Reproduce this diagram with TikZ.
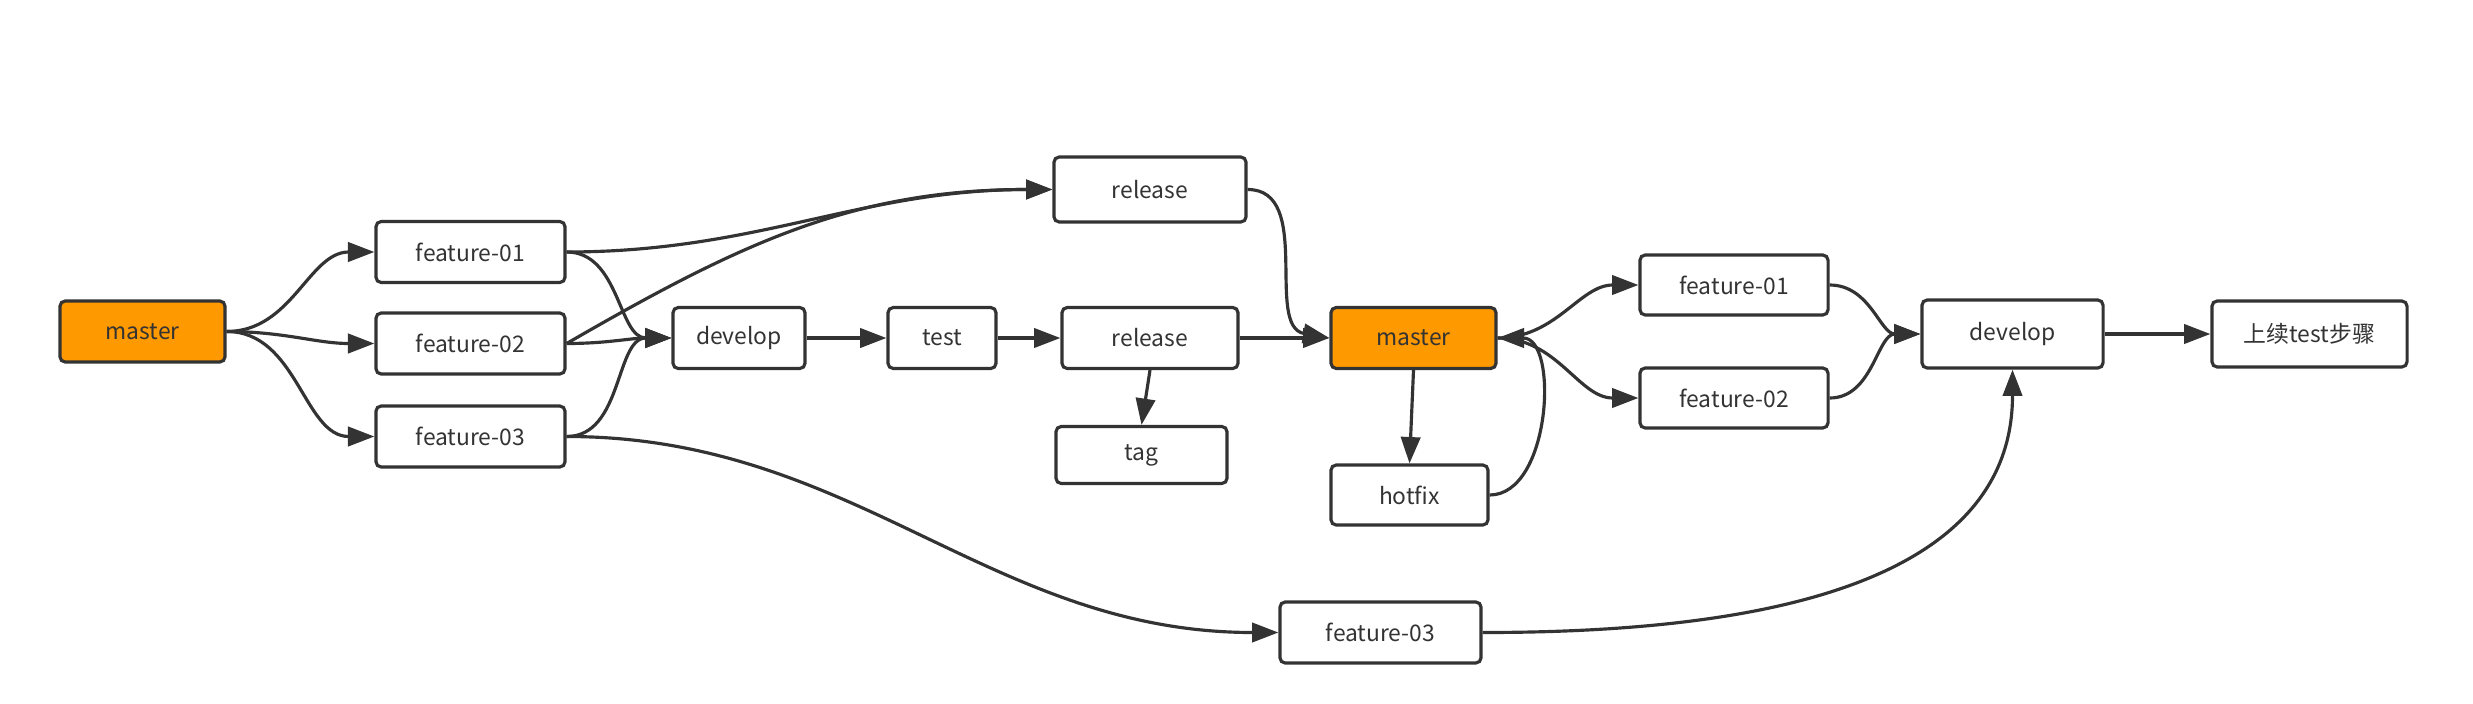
\documentclass[tikz,border=0pt]{standalone}
\usepackage{fontspec}
\setmainfont{Noto Sans CJK SC}
\usepackage{tikz}
\usetikzlibrary{arrows.meta}
\definecolor{masterfill}{RGB}{255,153,0}
\definecolor{linegray}{RGB}{51,51,51}
\definecolor{textgray}{RGB}{51,51,51}

\begin{document}
\begin{tikzpicture}[x=0.01cm,y=-0.01cm,
  box/.style={draw=linegray,line width=0.9pt,rounded corners=1.5pt,minimum height=0.61cm,
    inner sep=0pt,text=textgray,font=\fontsize{6.5}{8}\selectfont},
  masterbox/.style={box,fill=masterfill},
  link/.style={draw=linegray,line width=0.9pt,-{Triangle[length=7.5pt,width=5.5pt]}}]
  \useasboundingbox (0,0) rectangle (2473,703);
  % first round
  \node[masterbox,minimum width=1.65cm] (masterA) at (142.5,331.5) {master};
  \node[box,minimum width=1.89cm] (featA) at (470.5,252) {feature-01};
  \node[box,minimum width=1.89cm] (featB) at (470.5,343.5) {feature-02};
  \node[box,minimum width=1.89cm] (featC) at (470.5,436.5) {feature-03};
  \node[box,minimum width=1.32cm] (devA) at (739,338) {develop};
  \node[box,minimum width=1.08cm] (test) at (942,338) {test};
  \node[box,minimum width=1.76cm] (relA) at (1150,338) {release};
  \node[box,minimum width=1.71cm,minimum height=0.57cm] (tag) at (1141.5,455) {tag};
  \node[box,minimum width=1.92cm,minimum height=0.65cm] (relB) at (1150,189.5) {release};
  % second round
  \node[masterbox,minimum width=1.65cm] (masterB) at (1413.5,338) {master};
  \node[box,minimum width=1.57cm,minimum height=0.6cm] (hotfix) at (1409.5,495) {hotfix};
  \node[box,minimum width=1.88cm,minimum height=0.6cm] (featD) at (1734,285) {feature-01};
  \node[box,minimum width=1.88cm,minimum height=0.6cm] (featE) at (1734,398) {feature-02};
  \node[box,minimum width=1.81cm,minimum height=0.68cm] (devB) at (2012.5,334) {develop};
  \node[box,minimum width=1.95cm,minimum height=0.66cm] (next) at (2309.5,334) {上续test步骤};
  \node[box,minimum width=2.01cm] (featF) at (1380.5,632.5) {feature-03};

  \draw[link] (masterA.east) to[out=0,in=180] (featA.west);
  \draw[link] (masterA.east) to[out=0,in=180] (featB.west);
  \draw[link] (masterA.east) to[out=0,in=180] (featC.west);
  \draw[link] (featA.east) to[out=0,in=180] (devA.west);
  \draw[link] (featB.east) to[out=0,in=180] (devA.west);
  \draw[link] (featC.east) to[out=0,in=180] (devA.west);
  \draw[link] (featA.east) to[out=0,in=180] (relB.west);
  \draw[link] (featB.east) to[out=30,in=180] (relB.west);
  \draw[link] (featC.east) to[out=0,in=180] (featF.west);
  \draw[link] (devA) -- (test);
  \draw[link] (test) -- (relA);
  \draw[link] (relA.south) -- (tag.north);
  \draw[link] (relA.east) -- (masterB.west);
  \draw[link] (relB.east) to[out=0,in=170] (masterB.west);
  \draw[link] (masterB.south) -- (hotfix.north);
  \draw[link] (hotfix.east) to[out=0,in=0] (masterB.east);
  \draw[link] (masterB.east) to[out=0,in=180] (featD.west);
  \draw[link] (masterB.east) to[out=0,in=180] (featE.west);
  \draw[link] (featD.east) to[out=0,in=180] (devB.west);
  \draw[link] (featE.east) to[out=0,in=180] (devB.west);
  \draw[link] (devB) -- (next);
  \draw[link] (featF.east) to[out=0,in=-90] (devB.south);
\end{tikzpicture}
\end{document}
